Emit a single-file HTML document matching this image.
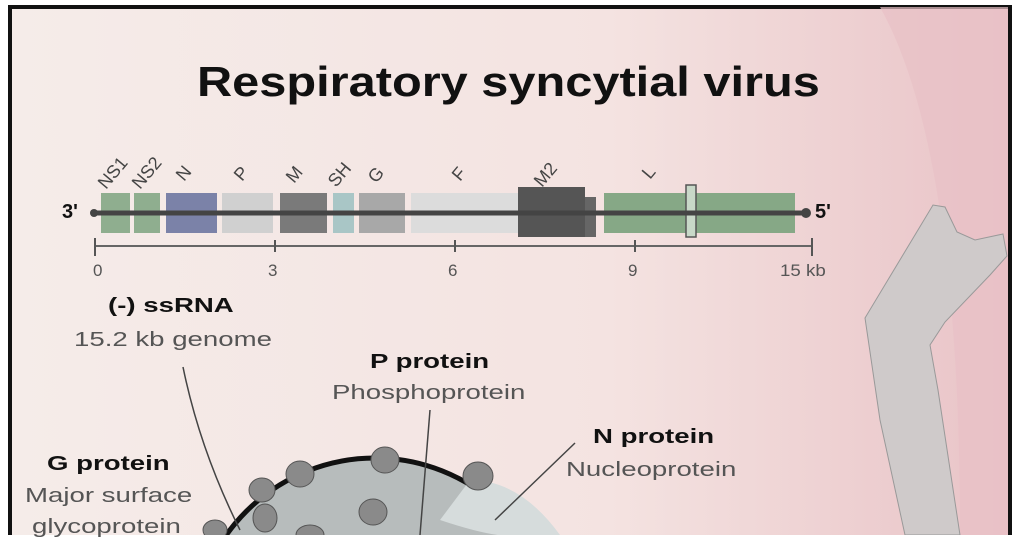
<!DOCTYPE html>
<html><head><meta charset="utf-8"><style>
html,body{margin:0;width:1020px;height:535px;overflow:hidden;background:#fff;font-family:"Liberation Sans",sans-serif}
.t{position:absolute;white-space:nowrap;color:#555;transform-origin:0 0;transform:scaleX(1.38)}
.b{font-weight:bold;color:#111}
</style></head><body>
<svg width="1020" height="535" style="position:absolute;left:0;top:0">
<defs><linearGradient id="bg" x1="0" x2="1" y1="0" y2="0">
<stop offset="0" stop-color="#f5ece9"/><stop offset="0.6" stop-color="#f4e3e1"/><stop offset="1" stop-color="#e9c3c7"/></linearGradient></defs>
<rect x="10" y="7" width="1000" height="535" fill="url(#bg)" stroke="#111" stroke-width="4"/>
<path d="M880 7 Q960 150 960 535 L1008 535 L1008 7Z" fill="#e8c1c6" opacity="0.7"/>
<path d="M865 318 L933 205 L945 207 L957 232 L975 240 L1003 234 L1007 256 L990 275 L945 322 L930 345 L938 390 L960 535 L905 535 L880 420 Z" fill="#cfcaca" stroke="#999" stroke-width="1"/>
<g>
<rect x="101" y="193" width="29" height="40" fill="#8fae8f"/>
<rect x="134" y="193" width="26" height="40" fill="#8fae8f"/>
<rect x="166" y="193" width="51" height="40" fill="#7b82a8"/>
<rect x="222" y="193" width="51" height="40" fill="#d0d0d0"/>
<rect x="280" y="193" width="47" height="40" fill="#7a7a7a"/>
<rect x="333" y="193" width="21" height="40" fill="#a9c6c6"/>
<rect x="359" y="193" width="46" height="40" fill="#a8a8a8"/>
<rect x="411" y="193" width="107" height="40" fill="#dcdcdc"/>
<rect x="518" y="187" width="67" height="50" fill="#555"/>
<rect x="585" y="197" width="11" height="40" fill="#666"/>
<rect x="604" y="193" width="191" height="40" fill="#86a886"/>
<rect x="686" y="185" width="10" height="52" fill="#c8d8c8" stroke="#555" stroke-width="1.5"/>
<line x1="94" y1="213" x2="808" y2="213" stroke="#444" stroke-width="5"/>
<circle cx="94" cy="213" r="4" fill="#444"/><circle cx="806" cy="213" r="5" fill="#444"/>
<line x1="95" y1="246" x2="812" y2="246" stroke="#666" stroke-width="2"/>
<g stroke="#555" stroke-width="2"><line x1="95" y1="238" x2="95" y2="256"/><line x1="275" y1="240" x2="275" y2="252"/><line x1="455" y1="240" x2="455" y2="252"/><line x1="635" y1="240" x2="635" y2="252"/><line x1="812" y1="238" x2="812" y2="256"/></g>
</g>
<g font-family="Liberation Sans" font-size="18" fill="#444">
<text transform="translate(106,190) rotate(-50)">NS1</text>
<text transform="translate(140,190) rotate(-50)">NS2</text>
<text transform="translate(184,182) rotate(-50)">N</text>
<text transform="translate(242,182) rotate(-50)">P</text>
<text transform="translate(294,184) rotate(-50)">M</text>
<text transform="translate(336,188) rotate(-50)">SH</text>
<text transform="translate(376,184) rotate(-50)">G</text>
<text transform="translate(460,182) rotate(-50)">F</text>
<text transform="translate(542,188) rotate(-50)">M2</text>
<text transform="translate(650,180) rotate(-50)">L</text>
</g>
<circle cx="375" cy="640" r="182" fill="#b7bcbc" stroke="#111" stroke-width="5"/>
<path d="M440 520 Q500 540 520 535 L560 535 Q520 480 470 480Z" fill="#d6dcdc"/>
<g fill="#8a8a8a" stroke="#555">
<ellipse cx="300" cy="474" rx="14" ry="13"/><ellipse cx="385" cy="460" rx="14" ry="13"/>
<ellipse cx="262" cy="490" rx="13" ry="12"/><ellipse cx="265" cy="518" rx="12" ry="14"/>
<ellipse cx="478" cy="476" rx="15" ry="14"/><ellipse cx="373" cy="512" rx="14" ry="13"/>
<ellipse cx="215" cy="530" rx="12" ry="10"/><ellipse cx="310" cy="535" rx="14" ry="10"/>
</g>
<g stroke="#444" stroke-width="1.5" fill="none">
<path d="M183 367 Q200 450 240 530"/>
<path d="M430 410 L420 535"/>
<path d="M575 443 L495 520"/>
</g>
</svg>
<div class="t b" style="left:197px;top:58px;font-size:42px;transform:scaleX(1.16)">Respiratory syncytial virus</div>
<div class="t b" style="left:62px;top:201px;font-size:20px;transform:none">3'</div>
<div class="t b" style="left:815px;top:201px;font-size:20px;transform:none">5'</div>
<div class="t" style="left:93px;top:261px;font-size:17px;transform:none">0</div>
<div class="t" style="left:268px;top:261px;font-size:17px;transform:none">3</div>
<div class="t" style="left:448px;top:261px;font-size:17px;transform:none">6</div>
<div class="t" style="left:628px;top:261px;font-size:17px;transform:none">9</div>
<div class="t" style="left:780px;top:261px;font-size:17px;transform:scaleX(1.1)">15 kb</div>
<div class="t b" style="left:108px;top:295px;font-size:20px">(-) ssRNA</div>
<div class="t" style="left:74px;top:329px;font-size:20px">15.2 kb genome</div>
<div class="t b" style="left:370px;top:351px;font-size:20px">P protein</div>
<div class="t" style="left:332px;top:382px;font-size:20px">Phosphoprotein</div>
<div class="t b" style="left:593px;top:426px;font-size:20px">N protein</div>
<div class="t" style="left:566px;top:459px;font-size:20px">Nucleoprotein</div>
<div class="t b" style="left:47px;top:453px;font-size:20px">G protein</div>
<div class="t" style="left:25px;top:485px;font-size:20px">Major surface</div>
<div class="t" style="left:32px;top:516px;font-size:20px">glycoprotein</div>
</body></html>
